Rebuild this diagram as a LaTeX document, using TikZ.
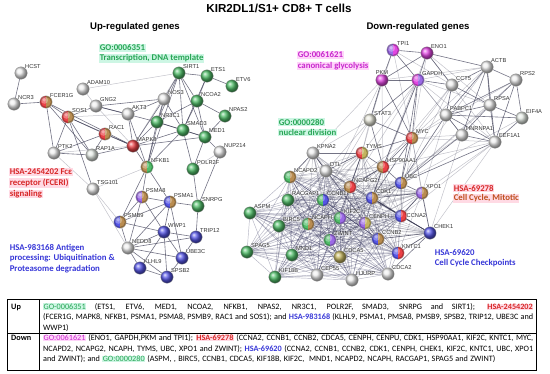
\documentclass[tikz,border=0pt]{standalone}
\usepackage{fontspec}
\setmainfont{Carlito}
\newfontfamily\arial{Liberation Sans}
\newfontfamily\calib{Carlito}
\usetikzlibrary{backgrounds}
\definecolor{gG}{RGB}{80,190,105}
\definecolor{gR}{RGB}{235,65,70}
\definecolor{gB}{RGB}{85,85,230}
\definecolor{gM}{RGB}{225,70,225}
\definecolor{gV}{RGB}{155,105,230}
\definecolor{gO}{RGB}{185,140,80}
\definecolor{gY}{RGB}{195,180,95}
\definecolor{gW}{RGB}{236,236,236}
\definecolor{tG}{RGB}{40,165,85}
\definecolor{hG}{RGB}{205,246,228}
\definecolor{tR}{RGB}{215,40,40}
\definecolor{tBr}{RGB}{190,80,30}
\definecolor{hR}{RGB}{255,218,228}
\definecolor{tB}{RGB}{55,55,215}
\definecolor{tM}{RGB}{200,40,205}
\definecolor{hM}{RGB}{255,212,250}
\definecolor{edgeC}{RGB}{55,55,80}
\definecolor{coreC}{RGB}{30,30,75}
\newcommand{\hlbox}[3]{{\setlength{\fboxsep}{0.4pt}\colorbox{#1}{\textcolor{#2}{#3}}}}
\tikzset{
  gene/.style={circle, minimum size=12.5pt, inner sep=0pt, draw=black!40, line width=0.3pt},
  one/.style={gene, shading=ball, ball color=#1},
  two/.style 2 args={gene, path picture={
      \fill[#1] (path picture bounding box.south west) rectangle (path picture bounding box.north);
      \fill[#2] (path picture bounding box.south) rectangle (path picture bounding box.north east);
      \fill[white, opacity=0.30] (path picture bounding box.center) ++(-1.5,-1.8) circle (3.6);
      \fill[white, opacity=0.35] (path picture bounding box.center) ++(-1.8,-2.2) circle (1.8);
      \draw[black, opacity=0.25, line width=1.2pt] (path picture bounding box.center) circle (5.6);
  }},
  lab/.style={font=\arial\fontsize{5.7}{6}\selectfont, text=black!80, inner sep=0.3pt,
              fill=white, fill opacity=0.45, text opacity=1},
  lb/.style={label={[lab]above right:#1}},
  lba/.style={label={[lab]above:#1}},
  lbr/.style={label={[lab]right:#1}},
  le/.style={draw=edgeC, line width=0.6pt, opacity=0.7},
  lf/.style={draw=edgeC, line width=0.5pt, opacity=0.3},
  ce/.style={draw=coreC, line width=0.45pt, opacity=0.33},
  ann/.style={font=\calib\bfseries\fontsize{8.8}{10}\selectfont, inner sep=0.6pt, anchor=west},
  tline/.style={font=\calib\fontsize{8.2}{10}\selectfont, inner sep=0pt, anchor=west},
  head/.style={font=\arial\bfseries\fontsize{9.6}{11}\selectfont, inner sep=0pt},
}
\begin{document}
\begin{tikzpicture}[x=1pt, y=-1pt, label distance=-1.2pt]
\useasboundingbox (0,0) rectangle (550,373);

% titles
\node[font=\arial\bfseries\fontsize{11.6}{13}\selectfont, inner sep=0pt] (title) at (279,8) {KIR2DL1/S1+ CD8+ T cells};
\node[head] (hup) at (135,27) {Up-regulated genes};
\node[head] (hdown) at (418,27) {Down-regulated genes};

% ---------------- left network ----------------
\node[one=gW, lb=HCST] (HCST) at (21,73) {};
\node[one=gW, lb=NCR3] (NCR3) at (14,104) {};
\node[two={gR}{gO}, lb=FCER1G] (FCER1G) at (46,102) {};
\node[one=gW, lb=ADAM10] (ADAM10) at (83,89) {};
\node[one=gW, lb=GNG2] (GNG2) at (96,106) {};
\node[two={gR}{gO}, lb=SOS1] (SOS1) at (68,117) {};
\node[one=gW, lb=AKT3] (AKT3) at (128,114) {};
\node[one=gW, lb=NOS3] (NOS3) at (164,99) {};
\node[one=gG, lb=SIRT1] (SIRT1) at (179,73) {};
\node[one=gG, lb=ETS1] (ETS1) at (207,76) {};
\node[one=gG, lb=ETV6] (ETV6) at (232,86) {};
\node[one=gG, lb=NCOA2] (NCOA2) at (197,101) {};
\node[one=gG, lb=NPAS2] (NPAS2) at (225,116) {};
\node[one=gG, lb=NR3C1] (NR3C1) at (157,122) {};
\node[one=gG, lb=SMAD3] (SMAD3) at (183,130) {};
\node[one=gG, lb=MED1] (MED1) at (205,137) {};
\node[two={gR}{gO}, lb=RAC1] (RAC1) at (105,134) {};
\node[one=gR, lb=MAPK8] (MAPK8) at (133,146) {};
\node[one=gW, lb=NUP214] (NUP214) at (220,152) {};
\node[one=gW, lb=PTK2] (PTK2) at (54,153) {};
\node[one=green!12!gray!20, lb=RAP1A] (RAP1A) at (92,155) {};
\node[two={gO}{gG}, lb=NFKB1] (NFKB1) at (147,167) {};
\node[one=gG, lb=POLR2F] (POLR2F) at (193,169) {};
\node[one=gW, lb=TSG101] (TSG101) at (93,189) {};
\node[two={gV}{gO}, lb=PSMA8] (PSMA8) at (142,197) {};
\node[two={gB}{gO}, lb=PSMA1] (PSMA1) at (170,202) {};
\node[one=gG, lb=SNRPG] (SNRPG) at (198,206) {};
\node[two={gB}{gO}, lb=PSMB9] (PSMB9) at (120,222) {};
\node[one=gB, lb=WWP1] (WWP1) at (164,232) {};
\node[one=gB, lb=TRIP12] (TRIP12) at (196,237) {};
\node[one=gW, lb=NEDD8] (NEDD8) at (128,248) {};
\node[one=gB, lb=UBE3C] (UBE3C) at (182,258) {};
\node[one=gB, lb=KLHL9] (KLHL9) at (140,268) {};
\node[one=gB, lb=SPSB2] (SPSB2) at (167,277) {};

% ---------------- right network ----------------
\node[two={gV}{gM}, lb=TPI1] (TPI1) at (393,50) {};
\node[one=gM, lb=ENO1] (ENO1) at (427,53) {};
\node[one=gM, lba=PKM] (PKM) at (382,80) {};
\node[two={gM}{gV}, lb=GAPDH] (GAPDH) at (418,80) {};
\node[one=gW, lb=ACTB] (ACTB) at (487,67) {};
\node[one=gW, lb=RPS2] (RPS2) at (516,80) {};
\node[one=gW, lb=CCT5] (CCT5) at (452,85) {};
\node[one=gW, lb=RPSA] (RPSA) at (490,105) {};
\node[one=green!12!gray!20, lb=EIF4A] (EIF4A) at (522,118) {};
\node[one=gW, lb=PABPC1] (PABPC1) at (446,115) {};
\node[one=yellow!20!gray!25, lb=STAT3] (STAT3) at (370,120) {};
\node[one=gW, lb=HNRNPA1] (HNRNPA1) at (462,135) {};
\node[one=gW, lb=EEF1A1] (EEF1A1) at (495,142) {};
\node[two={gR}{gO}, lb=MYC] (MYC) at (412,138) {};
\node[one=gW, lb=KPNA2] (KPNA2) at (313,153) {};
\node[two={gR}{gY}, lb=TYMS] (TYMS) at (362,153) {};
\node[two={gO}{gR}, lb=HSP90AA1] (HSP90AA1) at (383,167) {};
\node[one=gW, lb=DTL] (DTL) at (326,171) {};
\node[two={gG}{gO}, lb=NCAPD2] (NCAPD2) at (290,177) {};
\node[two={gO}{gR}, lb=NCAPG2] (NCAPG2) at (350,187) {};
\node[two={gB}{gO}, lb=UBC] (UBC) at (401,183) {};
\node[two={gV}{gO}, lb=XPO1] (XPO1) at (422,193) {};
\node[two={gB}{gO}, lb=CDK1] (CDK1) at (372,198) {};
\node[one=gG, lb=RACGAP1] (RACGAP1) at (288,200) {};
\node[two={gG}{gB}, lb=CCNB1] (CCNB1) at (323,200) {};
\node[two={gB}{gR}, lbr=CCNA2] (CCNA2) at (401,216) {};
\node[one=gG, lb=BIRC5] (BIRC5) at (279,226) {};
\node[two={gG}{gO}, lb=NCAPH] (NCAPH) at (308,224) {};
\node[two={gG}{gV}, lb=KIF2C] (KIF2C) at (340,218) {};
\node[two={gV}{gY}, lb=CENPH] (CENPH) at (365,223) {};
\node[one=gB, lb=CHEK1] (CHEK1) at (430,233) {};
\node[two={gB}{gO}, lb=CCNB2] (CCNB2) at (378,239) {};
\node[two={gG}{gV}, lb=ZWINT] (ZWINT) at (330,240) {};
\node[one=gG, lb=MND1] (MND1) at (292,255) {};
\node[one=gY, lb=CDCA5] (CDCA5) at (340,257) {};
\node[two={gB}{gR}, lb=KNTC1] (KNTC1) at (398,253) {};
\node[one=gG, lb=KIF18B] (KIF18B) at (275,277) {};
\node[one=gW, lb=CEP55] (CEP55) at (317,275) {};
\node[one=gW, lb=HJURP] (HJURP) at (352,280) {};
\node[one=gW, lb=CDCA2] (CDCA2) at (388,274) {};
\node[one=gG, lb=ASPM] (ASPM) at (250,213) {};
\node[one=gG, lb=SPAG5] (SPAG5) at (247,252) {};

% ---------------- edges ----------------
\begin{scope}[on background layer]
\foreach \a/\b in {HCST/NCR3, NCR3/FCER1G, FCER1G/SOS1, FCER1G/PTK2, FCER1G/MAPK8, FCER1G/RAP1A,
  SOS1/RAC1, SOS1/PTK2, SOS1/RAP1A, SOS1/MAPK8, SOS1/TSG101, SOS1/GNG2,
  GNG2/AKT3, GNG2/NOS3, GNG2/NR3C1, AKT3/NOS3, AKT3/MAPK8, AKT3/NFKB1,
  NOS3/SIRT1, NOS3/NR3C1, NOS3/SMAD3, NOS3/MAPK8, NOS3/NFKB1,
  SIRT1/ETS1, SIRT1/NCOA2, SIRT1/NR3C1, SIRT1/SMAD3, SIRT1/MED1, SIRT1/NFKB1,
  ETS1/NCOA2, ETS1/SMAD3, ETV6/ETS1, NCOA2/NPAS2, NCOA2/MED1, NCOA2/SMAD3, NCOA2/NR3C1,
  NPAS2/MED1, NR3C1/SMAD3, NR3C1/MED1, NR3C1/NFKB1, NR3C1/MAPK8,
  SMAD3/MED1, SMAD3/MAPK8, SMAD3/NFKB1, SMAD3/POLR2F, MED1/POLR2F, MED1/NUP214, MED1/MAPK8,
  POLR2F/SNRPG, NUP214/SNRPG, RAC1/RAP1A, RAC1/MAPK8, RAC1/PTK2, RAP1A/MAPK8, RAP1A/PTK2,
  MAPK8/NFKB1, NFKB1/PSMA8, NFKB1/PSMA1, NFKB1/PSMB9,
  PSMA8/PSMA1, PSMA8/PSMB9, PSMA8/WWP1, PSMA8/NEDD8, PSMA1/PSMB9, PSMA1/WWP1, PSMA1/SNRPG,
  PSMA1/NEDD8, PSMB9/WWP1, PSMB9/NEDD8, WWP1/TRIP12, WWP1/UBE3C, WWP1/NEDD8, WWP1/KLHL9,
  WWP1/SPSB2, TRIP12/UBE3C, TRIP12/NEDD8, SNRPG/TRIP12, NEDD8/KLHL9, NEDD8/SPSB2,
  KLHL9/SPSB2, UBE3C/SPSB2, NEDD8/UBE3C, PSMA1/UBE3C}
  \draw[le] (\a) -- (\b);
\foreach \a/\b in {ADAM10/SIRT1, ADAM10/GNG2, TSG101/NEDD8, TSG101/PTK2, TSG101/PSMB9,
  GNG2/MAPK8, SIRT1/MAPK8, NUP214/POLR2F, NFKB1/TSG101, SOS1/AKT3, PTK2/MAPK8}
  \draw[lf] (\a) -- (\b);
% top right group
\foreach \a/\b in {TPI1/ENO1, TPI1/PKM, TPI1/GAPDH, ENO1/PKM, ENO1/GAPDH, PKM/GAPDH,
  ENO1/ACTB, ENO1/CCT5, GAPDH/CCT5, GAPDH/MYC, GAPDH/STAT3, PKM/STAT3, PKM/MYC,
  ACTB/RPS2, ACTB/CCT5, ACTB/RPSA, ACTB/PABPC1, ACTB/EEF1A1, ACTB/HNRNPA1,
  RPS2/RPSA, RPS2/EIF4A, RPS2/EEF1A1, RPS2/PABPC1, RPSA/EIF4A, RPSA/PABPC1, RPSA/EEF1A1,
  RPSA/HNRNPA1, EIF4A/PABPC1, EIF4A/EEF1A1, PABPC1/HNRNPA1, PABPC1/EEF1A1, HNRNPA1/EEF1A1,
  CCT5/PABPC1, CCT5/RPSA, STAT3/MYC, STAT3/HSP90AA1, MYC/HSP90AA1, MYC/UBC, MYC/CDK1,
  MYC/TYMS, GAPDH/HSP90AA1, GAPDH/UBC, EEF1A1/UBC, HNRNPA1/UBC, PABPC1/UBC, TYMS/HSP90AA1}
  \draw[le] (\a) -- (\b);
\foreach \a/\b in {GAPDH/TYMS, GAPDH/CDK1, GAPDH/NCAPG2, PKM/TYMS, PKM/KPNA2, STAT3/KPNA2,
  STAT3/CCNB1, STAT3/DTL, STAT3/TYMS, MYC/CCNA2, MYC/CCNB1, MYC/CHEK1, MYC/XPO1, HSP90AA1/EEF1A1,
  HNRNPA1/CHEK1, HNRNPA1/CDK1, EEF1A1/CCNA2, EEF1A1/XPO1, EEF1A1/CHEK1, PABPC1/XPO1, RPSA/UBC,
  ACTB/UBC, ACTB/MYC, CCT5/MYC, CCT5/UBC, CCT5/HSP90AA1, EIF4A/UBC, TPI1/MYC, ENO1/MYC,
  ENO1/HSP90AA1, ENO1/RPSA, ENO1/EEF1A1, GAPDH/RPSA, GAPDH/PABPC1, GAPDH/EEF1A1,
  GAPDH/HNRNPA1, PKM/HSP90AA1, PKM/ACTB, TPI1/CCT5, HNRNPA1/MYC, EEF1A1/MYC, PABPC1/MYC,
  RPS2/UBC, RPS2/MYC, ACTB/GAPDH, TPI1/STAT3, PKM/CCNB1}
  \draw[lf] (\a) -- (\b);
% dense cell-cycle core
\def\corelist{NCAPD2,RACGAP1,CCNB1,BIRC5,NCAPH,KIF2C,CENPH,CCNB2,ZWINT,MND1,CDCA5,KNTC1,KIF18B,ASPM,SPAG5,CDK1,CCNA2,NCAPG2,DTL,CEP55,HJURP,CDCA2}
\foreach \a [count=\i] in \corelist {
  \foreach \b [count=\j] in \corelist {
    \ifnum\j>\i \draw[ce] (\a) -- (\b); \fi
  }
}
\foreach \a in {KPNA2,TYMS,HSP90AA1,UBC,XPO1,CHEK1} {
  \foreach \b in {NCAPD2,CCNB1,NCAPH,KIF2C,CENPH,CCNB2,ZWINT,CDCA5,KNTC1,CDK1,CCNA2,NCAPG2,DTL,RACGAP1,BIRC5} {
    \draw[lf] (\a) -- (\b);
  }
}
\foreach \a/\b in {UBC/XPO1, UBC/CDK1, UBC/HSP90AA1, XPO1/CDK1, XPO1/CCNA2, XPO1/CHEK1, CHEK1/CCNA2,
  CHEK1/KNTC1, CHEK1/CDK1, CHEK1/CCNB2, TYMS/KPNA2, TYMS/DTL, TYMS/NCAPG2, KPNA2/DTL, KPNA2/NCAPD2,
  HSP90AA1/CDK1, HSP90AA1/NCAPG2, CCNA2/CDK1, CHEK1/CDCA2}
  \draw[le] (\a) -- (\b);
\end{scope}

% ---------------- annotations ----------------
\node[ann, fill=hG, text=tG] (a1a) at (99,48) {GO:0006351};
\node[ann, fill=hG, text=tG] (a1b) at (99,58.5) {Transcription, DNA template};
\node[ann, fill=hR, text=tR] (a2a) at (9,172) {HSA-2454202 Fcε};
\node[ann, fill=hR, text=tR] (a2b) at (9,183) {receptor (FCERI)};
\node[ann, fill=hR, text=tR] (a2c) at (9,194) {signaling};
\node[ann, text=tB] (a3a) at (9,248) {HSA-983168 Antigen};
\node[ann, text=tB] (a3b) at (9,258.5) {processing: Ubiquitination \&};
\node[ann, text=tB] (a3c) at (9,269) {Proteasome degradation};
\node[ann, fill=hM, text=tM] (a4a) at (297,55) {GO:0061621};
\node[ann, fill=hM, text=tM] (a4b) at (297,66) {canonical glycolysis};
\node[ann, fill=hG, text=tG] (a5a) at (278,122) {GO:0000280};
\node[ann, fill=hG, text=tG] (a5b) at (278,132.5) {nuclear division};
\node[ann, fill=hR, text=tR] (a6a) at (453,188) {HSA-69278};
\node[ann, fill=hR, text=tBr] (a6b) at (453,198.5) {Cell Cycle, Mitotic};
\node[ann, text=tB] (a7a) at (434,253) {HSA-69620};
\node[ann, text=tB] (a7b) at (434,263.5) {Cell Cycle Checkpoints};

% ---------------- table ----------------
\draw[line width=0.6pt] (7,299) rectangle (536,370);
\draw[line width=0.6pt] (7,333) -- (536,333);
\draw[line width=0.6pt] (39,299) -- (39,370);
\node[tline, font=\calib\bfseries\fontsize{8.2}{10}\selectfont] (tup) at (11,307) {Up};
\node[tline, font=\calib\bfseries\fontsize{8.2}{10}\selectfont] (tdown) at (11,338) {Down};
\node[tline] (u1) at (43,307) {\makebox[490pt][s]{\hlbox{hG}{tG}{GO-0006351} (ETS1, ETV6, MED1, NCOA2, NFKB1, NPAS2, NR3C1, POLR2F, SMAD3, SNRPG and SIRT1); \hlbox{hR}{tR}{\textbf{HSA-2454202}}}};
\node[tline] (u2) at (43,317.5) {\makebox[490pt][s]{(FCER1G, MAPK8, NFKB1, PSMA1, PSMA8, PSMB9, RAC1 and SOS1); and \textcolor{tB}{\textbf{HSA-983168}} (KLHL9, PSMA1, PMSA8, PMSB9, SPSB2, TRIP12, UBE3C and}};
\node[tline] (u3) at (43,328) {WWP1)};
\node[tline] (d1) at (43,338.5) {\makebox[490pt][s]{\hlbox{hM}{tM}{GO:0061621} (ENO1, GAPDH,PKM and TPI1); \hlbox{hR}{tR}{\textbf{HSA-69278}} (CCNA2, CCNB1, CCNB2, CDCA5, CENPH, CENPU, CDK1, HSP90AA1, KIF2C, KNTC1, MYC,}};
\node[tline] (d2) at (43,349) {\makebox[490pt][s]{NCAPD2, NCAPG2, NCAPH, TYMS, UBC, XPO1 and ZWINT); \textcolor{tB}{\textbf{HSA-69620}} (CCNA2, CCNB1, CCNB2, CDK1, CENPH, CHEK1, KIF2C, KNTC1, UBC, XPO1}};
\node[tline] (d3) at (43,359.5) {\makebox[452pt][s]{and ZWINT); and \hlbox{hG}{tG}{GO:0000280} (ASPM, , BIRC5, CCNB1, CDCA5, KIF18B, KIF2C,\ \ MND1, NCAPD2, NCAPH, RACGAP1, SPAG5 and ZWINT)}};
\end{tikzpicture}
\end{document}
